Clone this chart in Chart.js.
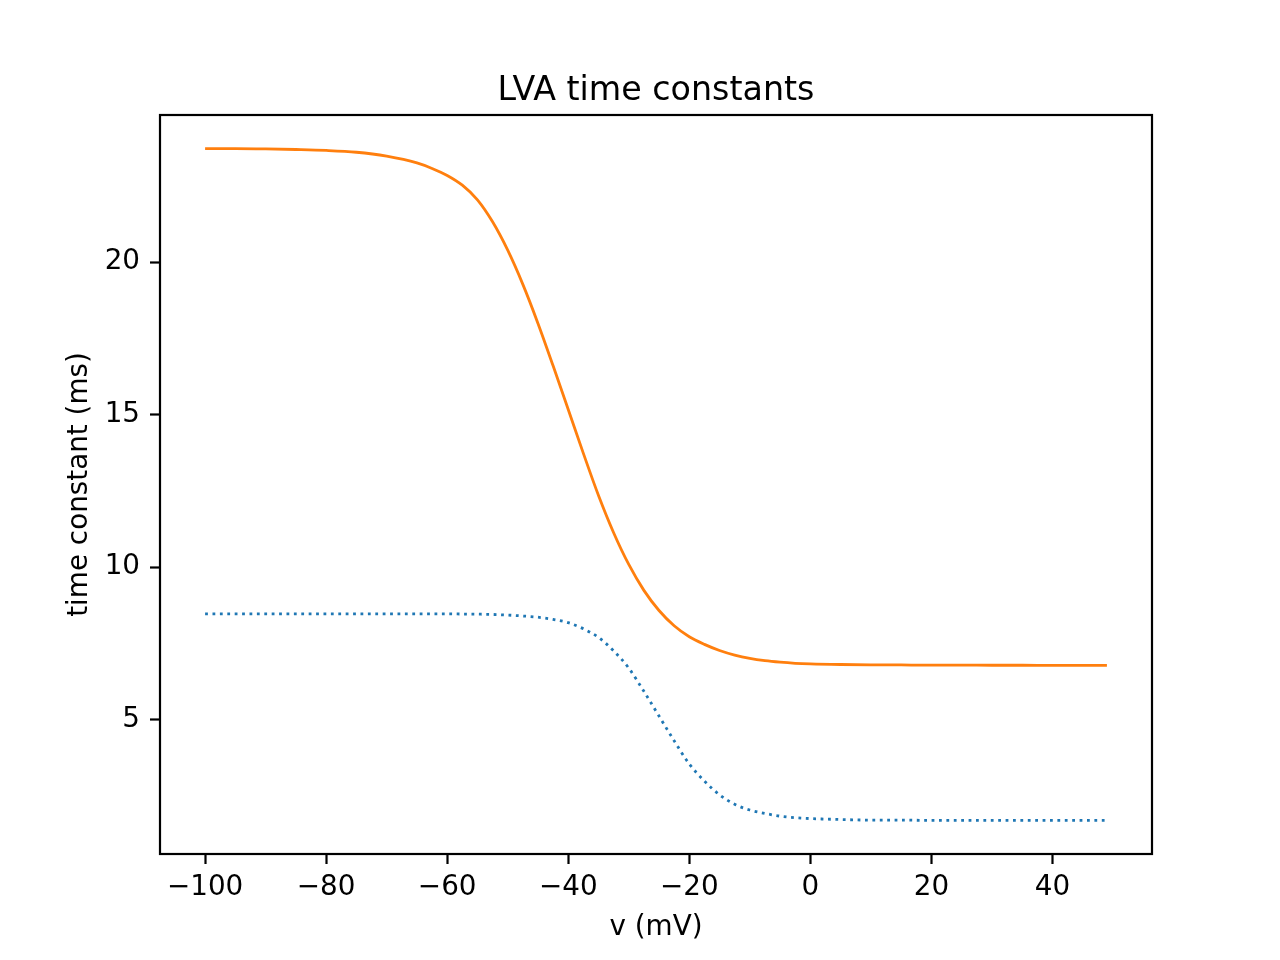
<!DOCTYPE html>
<html>
<head>
<meta charset="utf-8">
<title>LVA time constants</title>
<script src="https://cdn.jsdelivr.net/npm/chart.js@4.4.1/dist/chart.umd.min.js"></script>
<style>
    html, body { margin: 0; padding: 0; background: #ffffff; }
    #wrap { width: 1280px; height: 960px; }
</style>
</head>
<body>
<div id="wrap"><canvas id="tau_chart" width="1280" height="960"></canvas></div>
<script>
// membrane potential (mV)
const voltages = [
    -100, -95, -90, -85, -80, -75, -70, -65,
    -62.5, -60, -57.5, -55, -52.5, -50, -47.5, -45, -42.5, -40,
    -37.5, -35, -32.5, -30, -27.5, -25, -22.5, -20, -17.5, -15,
    -12.5, -10, -7.5, -5, -2.5, 0,
    5, 10, 15, 20, 25, 30, 35, 40, 45, 49
];
// blue dotted curve (ms)
const tauM = [
    8.47, 8.47, 8.47, 8.47, 8.47, 8.47, 8.47, 8.47,
    8.47, 8.47, 8.465, 8.46, 8.45, 8.43, 8.40, 8.36, 8.29, 8.18,
    7.98, 7.70, 7.26, 6.69, 5.93, 5.12, 4.31, 3.55, 2.99, 2.54,
    2.23, 2.04, 1.93, 1.84, 1.79, 1.76,
    1.73, 1.71, 1.71, 1.70, 1.70, 1.70, 1.70, 1.70, 1.70, 1.70
];
// orange solid curve (ms)
const tauH = [
    23.72, 23.72, 23.71, 23.69, 23.66, 23.60, 23.47, 23.25,
    23.07, 22.84, 22.52, 22.04, 21.32, 20.39, 19.27, 17.99, 16.60, 15.17,
    13.73, 12.35, 11.13, 10.09, 9.24, 8.58, 8.08, 7.72, 7.47, 7.27,
    7.12, 7.01, 6.935, 6.885, 6.85, 6.83,
    6.81, 6.80, 6.795, 6.79, 6.79, 6.785, 6.785, 6.78, 6.78, 6.78
];
const xTicks = [-100, -80, -60, -40, -20, 0, 20, 40];
const yTicks = [5, 10, 15, 20];
const chartTitle = 'LVA time constants';

const fontFamily = "'DejaVu Sans', sans-serif";
const minus = (v) => String(v).replace('-', '\u2212');

// axes box + title centred over the axes, like matplotlib
const framePlugin = {
    id: 'frame',
    afterDatasetsDraw(chart) {
        const { ctx, chartArea: a } = chart;
        ctx.save();
        ctx.strokeStyle = '#000000';
        ctx.lineWidth = 2.2;
        ctx.strokeRect(a.left, a.top, a.right - a.left, a.bottom - a.top);
        ctx.fillStyle = '#000000';
        ctx.font = "33.3px " + fontFamily;
        ctx.textAlign = 'center';
        ctx.textBaseline = 'alphabetic';
        ctx.fillText(chartTitle, (a.left + a.right) / 2, a.top - 15);
        ctx.restore();
    }
};

const toPoints = (ys) => voltages.map((v, i) => ({ x: v, y: ys[i] }));

const ctx = document.getElementById('tau_chart').getContext('2d');
new Chart(ctx, {
    type: 'line',
    data: {
        datasets: [
            {
                label: 'tau m',
                data: toPoints(tauM),
                borderColor: '#1f77b4',
                borderWidth: 2.8,
                borderDash: [2.8, 4.6],
                borderCapStyle: 'butt',
                pointRadius: 0,
                cubicInterpolationMode: 'monotone',
                fill: false
            },
            {
                label: 'tau h',
                data: toPoints(tauH),
                borderColor: '#ff7f0e',
                borderWidth: 2.8,
                pointRadius: 0,
                cubicInterpolationMode: 'monotone',
                fill: false
            }
        ]
    },
    options: {
        responsive: false,
        animation: false,
        devicePixelRatio: 1,
        layout: { padding: { left: 0, right: 128, top: 115, bottom: 0 } },
        plugins: {
            legend: { display: false },
            tooltip: { enabled: false },
            title: { display: false }
        },
        scales: {
            x: {
                type: 'linear',
                min: -107.45,
                max: 56.45,
                afterBuildTicks: (axis) => { axis.ticks = xTicks.map(v => ({ value: v })); },
                afterFit: (axis) => { axis.height = 106; },
                border: { display: false },
                grid: { drawOnChartArea: false, drawTicks: true, tickLength: 10, tickColor: '#000000', tickWidth: 2.2 },
                ticks: {
                    color: '#000000',
                    font: { family: fontFamily, size: 27.8, lineHeight: 1.2 },
                    padding: 7,
                    maxRotation: 0,
                    autoSkip: false,
                    callback: (v) => minus(v)
                },
                title: {
                    display: true,
                    text: 'v (mV)',
                    color: '#000000',
                    font: { family: fontFamily, size: 27.8, lineHeight: 1.2 },
                    padding: { top: 0, bottom: 16 }
                }
            },
            y: {
                type: 'linear',
                min: 0.599,
                max: 24.821,
                afterBuildTicks: (axis) => { axis.ticks = yTicks.map(v => ({ value: v })); },
                afterFit: (axis) => { axis.width = 160; },
                border: { display: false },
                grid: { drawOnChartArea: false, drawTicks: true, tickLength: 10, tickColor: '#000000', tickWidth: 2.2 },
                ticks: {
                    color: '#000000',
                    font: { family: fontFamily, size: 27.8, lineHeight: 1.2 },
                    padding: 10,
                    autoSkip: false,
                    callback: (v) => minus(v)
                },
                title: {
                    display: true,
                    text: 'time constant (ms)',
                    color: '#000000',
                    font: { family: fontFamily, size: 27.8, lineHeight: 1.2 },
                    padding: { top: 63, bottom: 0 }
                }
            }
        }
    },
    plugins: [framePlugin]
});
</script>
</body>
</html>
